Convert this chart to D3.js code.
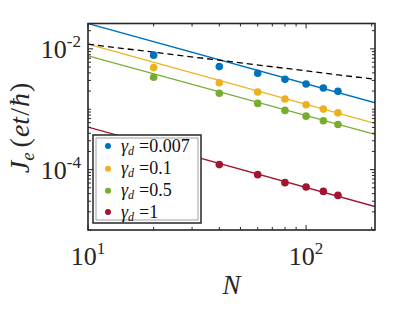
<!DOCTYPE html>
<html><head><meta charset="utf-8">
<script src="https://cdn.jsdelivr.net/npm/d3@7"></script>
<style>body{margin:0;background:#fff}svg{display:block}</style>
</head><body><svg id="c" width="415" height="312"></svg>
<script>
const N = [20, 40, 60, 80, 100, 120, 140];
const seriesNames = ["0.007", "0.1", "0.5", "1"];
const colors = ["#0072BD", "#EDB120", "#77AC30", "#A2142F"];
const J_007 = [7.86e-3, 5.08e-3, 3.94e-3, 3.13e-3, 2.62e-3, 2.25e-3, 1.98e-3];
const J_01  = [4.89e-3, 2.75e-3, 1.93e-3, 1.475e-3, 1.187e-3, 1.006e-3, 8.72e-4];
const J_05  = [3.39e-3, 1.84e-3, 1.25e-3, 9.57e-4, 7.69e-4, 6.43e-4, 5.6e-4];
const J_1   = [2.4e-4, 1.21e-4, 8.26e-5, 6.08e-5, 5.14e-5, 4.36e-5, 3.74e-5];
const fitN = [10, 207];
const fit_007 = [0.0263, 1.28e-3];
const fit_01  = [0.01197, 5.82e-4];
const fit_05  = [7.65e-3, 3.82e-4];
const fit_1   = [5.05e-4, 2.45e-5];
const dashN = [10, 207];
const dashJ = [0.01197, 3.13e-3];
const xTickLabels = [{v: 10, e: "1"}, {v: 100, e: "2"}];
const yTickLabels = [{v: 1e-2, e: "-2"}, {v: 1e-4, e: "-4"}];

const pts = [J_007, J_01, J_05, J_1];
const fits = [fit_007, fit_01, fit_05, fit_1];

const L = 88, R = 375, T = 23.5, B = 230;
const x = d3.scaleLog().domain([10, 207]).range([L, R]);
const y = d3.scaleLog().domain([1e-5, 0.0263]).range([B, T]);
const svg = d3.select("#c");
const font = "'Liberation Serif','Times New Roman',serif";
const axc = "#262626";

svg.append("defs").append("clipPath").attr("id", "clip")
  .append("rect").attr("x", L).attr("y", T).attr("width", R - L).attr("height", B - T);

const plot = svg.append("g").attr("clip-path", "url(#clip)");
const line = d3.line().x(d => x(d[0])).y(d => y(d[1]));

fits.forEach((f, i) => {
  plot.append("path").attr("d", line(fitN.map((n, k) => [n, f[k]])))
    .attr("fill", "none").attr("stroke", colors[i]).attr("stroke-width", 1.3);
});
plot.append("path").attr("d", line(dashN.map((n, k) => [n, dashJ[k]])))
  .attr("fill", "none").attr("stroke", "#000").attr("stroke-width", 1.3)
  .attr("stroke-dasharray", "6,4");

pts.forEach((s, i) => {
  plot.selectAll(null).data(N.map((n, k) => [n, s[k]])).enter().append("circle")
    .attr("cx", d => x(d[0])).attr("cy", d => y(d[1])).attr("r", 3.8)
    .attr("fill", colors[i]);
});

// ticks
const g = svg.append("g").attr("stroke", axc).attr("stroke-width", 1);
const xMinor = [20,30,40,50,60,70,80,90,200];
const xMajor = [10,100];
xMinor.forEach(v => {
  g.append("line").attr("x1", x(v)).attr("x2", x(v)).attr("y1", B).attr("y2", B - 3);
  g.append("line").attr("x1", x(v)).attr("x2", x(v)).attr("y1", T).attr("y2", T + 3);
});
xMajor.forEach(v => {
  g.append("line").attr("x1", x(v)).attr("x2", x(v)).attr("y1", B).attr("y2", B - 5);
  g.append("line").attr("x1", x(v)).attr("x2", x(v)).attr("y1", T).attr("y2", T + 5);
});
const yMinor = [];
[1e-5, 1e-4, 1e-3, 1e-2].forEach(d => { for (let m = 1; m <= 9; m++) { const v = d * m; if (v <= 0.0263 && v !== 1e-4 && v !== 1e-2) yMinor.push(v); } });
yMinor.forEach(v => {
  g.append("line").attr("x1", L).attr("x2", L + 3).attr("y1", y(v)).attr("y2", y(v));
  g.append("line").attr("x1", R).attr("x2", R - 3).attr("y1", y(v)).attr("y2", y(v));
});
[1e-4, 1e-2].forEach(v => {
  g.append("line").attr("x1", L).attr("x2", L + 5).attr("y1", y(v)).attr("y2", y(v));
  g.append("line").attr("x1", R).attr("x2", R - 5).attr("y1", y(v)).attr("y2", y(v));
});

svg.append("rect").attr("x", L).attr("y", T).attr("width", R - L).attr("height", B - T)
  .attr("fill", "none").attr("stroke", axc).attr("stroke-width", 1.6);

// tick labels
xTickLabels.forEach(t => {
  const tx = svg.append("text").attr("x", x(t.v)).attr("y", 265).attr("text-anchor", "middle")
    .attr("font-family", font).attr("font-size", 26).attr("fill", axc);
  tx.append("tspan").text("10");
  tx.append("tspan").attr("dy", -11).attr("font-size", 17).text(t.e);
});
yTickLabels.forEach(t => {
  const tx = svg.append("text").attr("x", 81).attr("y", y(t.v) + 9).attr("text-anchor", "end")
    .attr("font-family", font).attr("font-size", 26).attr("fill", axc);
  tx.append("tspan").text("10");
  tx.append("tspan").attr("dy", -11).attr("font-size", 17).text(t.e);
});

// axis labels
svg.append("text").attr("x", (L + R) / 2).attr("y", 294).attr("text-anchor", "middle")
  .attr("font-family", font).attr("font-size", 27).attr("font-style", "italic").attr("fill", axc).text("N");

const yl = svg.append("text").attr("transform", "translate(29,128) rotate(-90)")
  .attr("text-anchor", "middle").attr("font-family", font).attr("font-size", 28).attr("fill", axc);
yl.append("tspan").attr("font-style", "italic").text("J");
yl.append("tspan").attr("font-style", "italic").attr("font-size", 19).attr("dy", 5).text("e");
yl.append("tspan").attr("dy", -5).attr("dx", 5).text("(");
yl.append("tspan").attr("font-style", "italic").attr("dx", 1).text("et");
yl.append("tspan").attr("dx", 1).text("/");
yl.append("tspan").attr("font-style", "italic").attr("dx", 1).text("ħ");
yl.append("tspan").attr("dx", 1).text(")");

// legend
const lg = svg.append("g");
lg.append("rect").attr("x", 93).attr("y", 135).attr("width", 108).attr("height", 88)
  .attr("fill", "#fff").attr("stroke", axc).attr("stroke-width", 1.5);
lg.append("rect").attr("x", 96).attr("y", 138).attr("width", 102).attr("height", 82)
  .attr("fill", "none").attr("stroke", "#888").attr("stroke-width", 0.8);
const rows = [146, 168.7, 190.8, 212];
seriesNames.forEach((nm, i) => {
  lg.append("circle").attr("cx", 108).attr("cy", rows[i]).attr("r", 3).attr("fill", colors[i]);
  const t = lg.append("text").attr("x", 121).attr("y", rows[i] + 5.5)
    .attr("font-family", font).attr("font-size", 18).attr("fill", "#111");
  t.append("tspan").attr("font-style", "italic").text("γ");
  t.append("tspan").attr("font-style", "italic").attr("font-size", 12).attr("dy", 3).text("d");
  t.append("tspan").attr("dy", -3).attr("dx", 5).text("=" + nm);
});
</script></body></html>
